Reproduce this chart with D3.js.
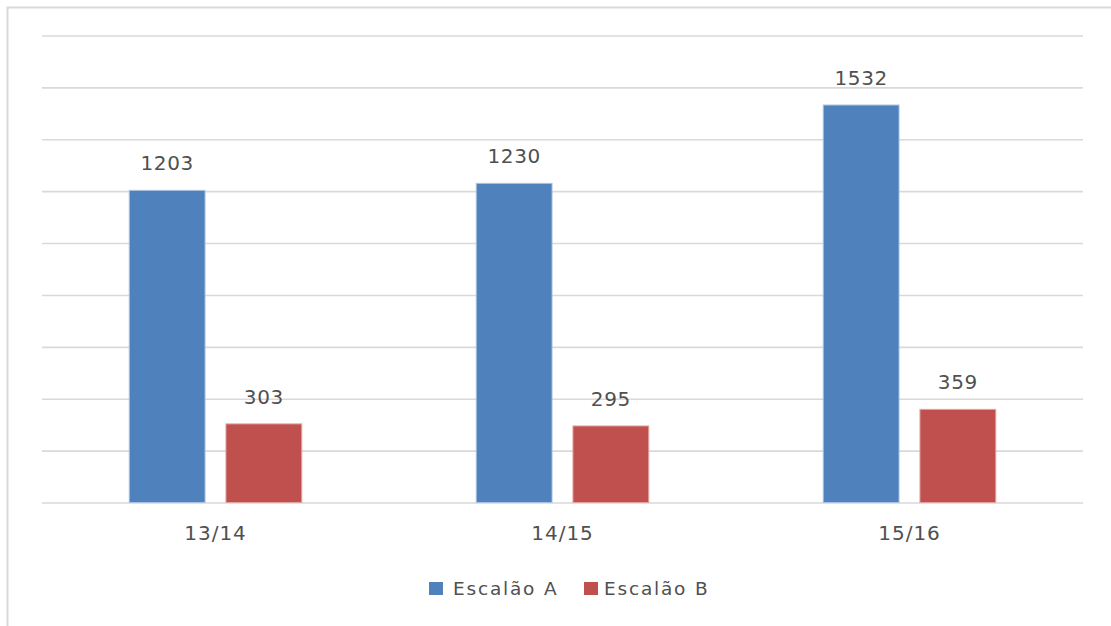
<!DOCTYPE html>
<html>
<head>
<meta charset="utf-8">
<script src="https://cdn.jsdelivr.net/npm/d3@7"></script>
<style>
  html, body { margin: 0; padding: 0; background: #fff; }
  svg { display: block; }
  text { font-family: "DejaVu Sans", sans-serif; fill: #505050; }
</style>
</head>
<body>
<svg id="chart" width="1111" height="626"></svg>
<script>
const categories = ["13/14", "14/15", "15/16"];
const seriesNames = ["Escalão A", "Escalão B"];
const escalaoA = [1203, 1230, 1532];
const escalaoB = [303, 295, 359];
const yTicks = [0, 200, 400, 600, 800, 1000, 1200, 1400, 1600, 1800];
const colors = ["#4f81bd", "#c0504d"];
const strokes = ["#a9c1e2", "#e0a3a1"];

const seriesValues = [escalaoA, escalaoB];

const svg = d3.select("#chart");

// chart frame (only top/left visible in the reference)
svg.append("path")
  .attr("d", "M7.5,626 L7.5,7.5 L1111,7.5")
  .attr("fill", "none")
  .attr("stroke", "#d9d9d9")
  .attr("stroke-width", 2);

const plotLeft = 42, plotRight = 1083, plotTop = 35.5, plotBottom = 502.5;

const y = d3.scaleLinear().domain([0, 1800]).range([plotBottom, plotTop]);
const x0 = d3.scaleBand().domain(categories).range([plotLeft, plotRight])
  .paddingInner(0.5).paddingOuter(0.25);
const x1 = d3.scaleBand().domain(seriesNames).range([0, x0.bandwidth()])
  .paddingInner(0.206);

// gridlines
const yAxis = d3.axisLeft(y).tickValues(yTicks).tickSize(-(plotRight - plotLeft)).tickFormat("");
const g = svg.append("g").attr("transform", `translate(${plotLeft},0)`).call(yAxis);
g.select(".domain").remove();
g.selectAll(".tick line").attr("stroke", "#d9d9d9").attr("stroke-width", 1.6);

// bars
const groups = svg.append("g").selectAll("g")
  .data(categories)
  .join("g")
  .attr("transform", d => `translate(${x0(d)},0)`);

groups.selectAll("rect")
  .data((d, i) => seriesNames.map((s, j) => ({ s, j, v: seriesValues[j][i] })))
  .join("rect")
  .attr("x", d => x1(d.s) + 0.5)
  .attr("y", d => y(d.v))
  .attr("width", x1.bandwidth() - 1)
  .attr("height", d => plotBottom - y(d.v))
  .attr("fill", d => colors[d.j])
  .attr("stroke", d => strokes[d.j])
  .attr("stroke-width", 1);

// data labels
groups.selectAll("text.val")
  .data((d, i) => seriesNames.map((s, j) => ({ s, j, v: seriesValues[j][i] })))
  .join("text")
  .attr("class", "val")
  .attr("x", d => x1(d.s) + x1.bandwidth() / 2)
  .attr("y", d => y(d.v) - 20)
  .attr("text-anchor", "middle")
  .attr("font-size", 20)
  .attr("letter-spacing", 0.6)
  .text(d => d.v);

// x axis labels
const xAxis = d3.axisBottom(x0).tickSize(0).tickPadding(0);
const xg = svg.append("g").attr("transform", `translate(0,${plotBottom})`).call(xAxis);
xg.select(".domain").remove();
xg.selectAll(".tick text")
  .attr("dy", null)
  .attr("y", 37.5)
  .attr("font-size", 20)
  .attr("letter-spacing", 1)
  .style("font-family", "'DejaVu Sans', sans-serif")
  .style("fill", "#505050");

// legend
const legendItems = [
  { name: seriesNames[0], color: colors[0], sx: 429, tx: 453 },
  { name: seriesNames[1], color: colors[1], sx: 584, tx: 604 }
];
const lg = svg.append("g");
lg.selectAll("rect")
  .data(legendItems)
  .join("rect")
  .attr("x", d => d.sx)
  .attr("y", 582)
  .attr("width", 14)
  .attr("height", 13)
  .attr("fill", d => d.color);
lg.selectAll("text")
  .data(legendItems)
  .join("text")
  .attr("x", d => d.tx)
  .attr("y", 595)
  .attr("font-size", 18.5)
  .attr("letter-spacing", 1.8)
  .text(d => d.name);
</script>
</body>
</html>
